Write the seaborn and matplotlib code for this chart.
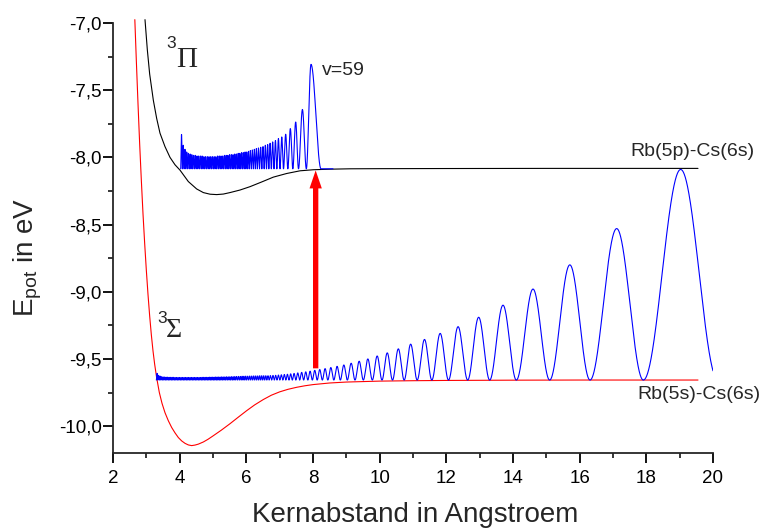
import numpy as np
import pandas as pd
import matplotlib
matplotlib.use("Agg")
import matplotlib.pyplot as plt
import seaborn as sns

# ---------------- data ----------------
# lower potential (3Sigma), red
sigma_x = [2.655, 2.70, 2.75, 2.80, 2.85, 2.90, 2.95, 3.00, 3.05, 3.10, 3.15, 3.20,
           3.25, 3.31, 3.39, 3.47, 3.56, 3.66, 3.76, 3.86, 3.96, 4.06, 4.16, 4.26,
           4.36, 4.46, 4.56, 4.71, 4.85, 5.00, 5.25, 5.51, 5.75, 6.01, 6.25, 6.51,
           6.75, 7.00, 7.25, 7.51, 7.75, 8.00, 8.50, 9.00, 10.0, 11.0, 12.0, 14.0,
           16.0, 19.55]
sigma_E = [-6.975, -7.28, -7.60, -7.90, -8.17, -8.42, -8.64, -8.84, -9.02, -9.18, -9.32, -9.44,
           -9.54, -9.64, -9.75, -9.83, -9.90, -9.96, -10.01, -10.05, -10.085, -10.11, -10.128, -10.14,
           -10.145, -10.141, -10.134, -10.118, -10.098, -10.073, -10.03, -9.982, -9.935, -9.885, -9.842, -9.802,
           -9.770, -9.745, -9.726, -9.711, -9.700, -9.691, -9.679, -9.672, -9.665, -9.662, -9.660, -9.658,
           -9.657, -9.657]

# upper potential (3Pi), black
pi_x = [2.96, 3.03, 3.10, 3.21, 3.31, 3.41, 3.56, 3.71, 3.86, 4.01, 4.26, 4.51,
        4.71, 4.91, 5.11, 5.31, 5.51, 5.81, 6.11, 6.46, 6.81, 7.21, 7.61, 8.01,
        8.50, 9.11, 10.0, 12.0, 15.0, 19.55]
pi_E = [-6.975, -7.20, -7.38, -7.575, -7.71, -7.82, -7.92, -8.00, -8.055, -8.095, -8.18, -8.235,
        -8.262, -8.274, -8.277, -8.273, -8.262, -8.243, -8.218, -8.183, -8.147, -8.12, -8.10, -8.092,
        -8.088, -8.085, -8.084, -8.083, -8.082, -8.082]

# upper vibrational wavefunction (v=59), blue: nodes and lobe maxima
upper_base = -8.085
upper_nodes = [4.030, 4.082, 4.133, 4.185, 4.236, 4.288, 4.339, 4.391, 4.442, 4.494,
               4.545, 4.597, 4.648, 4.700, 4.751, 4.803, 4.854, 4.906, 4.957, 5.009,
               5.060, 5.112, 5.163, 5.215, 5.266, 5.318, 5.369, 5.421, 5.472, 5.524,
               5.575, 5.627, 5.678, 5.730, 5.781, 5.833, 5.884, 5.936, 5.987, 6.039,
               6.09, 6.15, 6.21, 6.27, 6.33, 6.395, 6.465, 6.535, 6.605, 6.675,
               6.75, 6.83, 6.915, 7.01, 7.115, 7.245, 7.395, 7.565, 7.80, 8.24]
upper_peaks = [-7.83, -7.91, -7.94, -7.96, -7.97, -7.975, -7.98, -7.985, -7.985, -7.99,
               -7.99, -7.99, -7.99, -7.995, -7.995, -7.995, -7.995, -7.995, -7.995, -7.995,
               -7.995, -7.99, -7.99, -7.99, -7.99, -7.985, -7.985, -7.985, -7.98, -7.98,
               -7.98, -7.975, -7.975, -7.97, -7.97, -7.965, -7.965, -7.96, -7.96, -7.955,
               -7.95, -7.945, -7.94, -7.935, -7.93, -7.925, -7.92, -7.91, -7.905, -7.895,
               -7.885, -7.875, -7.86, -7.848, -7.828, -7.786, -7.737, -7.644, -7.308]
upper_last_peak_x = 7.94
upper_tail_end = 8.60

# lower vibrational wavefunction, blue: nodes and lobe maxima
lower_base = -9.657
lower_nodes = [3.300, 3.345, 3.390, 3.435, 3.480, 3.525, 3.570, 3.615, 3.660, 3.705,
               3.750, 3.795, 3.840, 3.885, 3.930, 3.975, 4.020, 4.065, 4.110, 4.155,
               4.200, 4.245, 4.290, 4.335, 4.380, 4.425, 4.470, 4.515, 4.560, 4.605,
               4.650, 4.695, 4.740, 4.785, 4.830, 4.875, 4.920, 4.965, 5.010, 5.055,
               5.100, 5.145, 5.190, 5.235, 5.280, 5.330, 5.380, 5.430, 5.480, 5.530,
               5.580, 5.630, 5.680, 5.735, 5.790, 5.845, 5.900, 5.955, 6.010, 6.070,
               6.130, 6.190, 6.250, 6.310, 6.370, 6.430, 6.490, 6.550, 6.615,
               6.685, 6.76, 6.84, 6.92, 7.005, 7.095, 7.185, 7.28, 7.38, 7.485,
               7.60, 7.72, 7.845, 7.98, 8.125, 8.28, 8.445, 8.625, 8.82, 9.03,
               9.26, 9.51, 9.78, 10.07, 10.385, 10.735, 11.125, 11.565, 12.065, 12.64,
               13.30, 14.10, 15.10, 16.31, 17.91, 20.15]
lower_peaks = [-9.607, -9.622, -9.628, -9.632, -9.634, -9.635, -9.636, -9.636, -9.637, -9.637,
               -9.637, -9.637, -9.638, -9.638, -9.638, -9.638, -9.638, -9.638, -9.638, -9.638,
               -9.638, -9.638, -9.638, -9.638, -9.638, -9.638, -9.638, -9.638, -9.638, -9.638,
               -9.637, -9.637, -9.637, -9.637, -9.637, -9.636, -9.636, -9.636, -9.636, -9.635,
               -9.635, -9.635, -9.635, -9.634, -9.634, -9.634, -9.633, -9.633, -9.633, -9.632,
               -9.632, -9.631, -9.631, -9.630, -9.630, -9.629, -9.629, -9.628, -9.628, -9.627,
               -9.627, -9.626, -9.626, -9.626, -9.625, -9.625, -9.625, -9.625,
               -9.625, -9.624, -9.623, -9.622, -9.620, -9.618, -9.616, -9.614, -9.611, -9.608,
               -9.604, -9.600, -9.596, -9.591, -9.585, -9.579, -9.572, -9.564, -9.555, -9.545,
               -9.532, -9.517, -9.500, -9.478, -9.455, -9.425, -9.390, -9.355, -9.310, -9.260,
               -9.190, -9.100, -8.980, -8.800, -8.530, -8.090]
lower_x_end = 20.0

# labels
x_ticks = [2, 4, 6, 8, 10, 12, 14, 16, 18, 20]
y_ticks = [-10.0, -9.5, -9.0, -8.5, -8.0, -7.5, -7.0]
y_tick_labels = ["-10,0", "-9,5", "-9,0", "-8,5", "-8,0", "-7,5", "-7,0"]
x_label = "Kernabstand in Angstroem"
y_label = r"E$_{\mathrm{pot}}$ in eV"

# excitation arrow
arrow_x = 8.08
arrow_y0 = -9.57
arrow_y1 = -8.097


def lobe_curve(nodes, peaks, base, last_peak_x=None, x_end=None, tail_end=None):
    xs, ys = [], []
    n = len(peaks)
    for i in range(n):
        a, b = nodes[i], nodes[i + 1]
        p = 0.5 * (a + b)
        if last_peak_x is not None and i == n - 1:
            p = last_peak_x
        h = peaks[i] - base
        m = max(6, int((b - a) * 220))
        t = np.linspace(0.0, 1.0, m)
        lx = a + (p - a) * t
        ly = base + h * np.sin(0.5 * np.pi * t) ** 2
        rx = p + (b - p) * t[1:]
        ry = base + h * np.cos(0.5 * np.pi * t[1:]) ** 2
        seg_x = np.concatenate([lx if i == 0 else lx[1:], rx])
        seg_y = np.concatenate([ly if i == 0 else ly[1:], ry])
        xs.append(seg_x)
        ys.append(seg_y)
    xs = np.concatenate(xs)
    ys = np.concatenate(ys)
    if tail_end is not None:
        xs = np.append(xs, tail_end)
        ys = np.append(ys, base)
    if x_end is not None:
        keep = xs <= x_end
        xs, ys = xs[keep], ys[keep]
    return xs, ys


sns.set_style("ticks")
plt.rcParams["font.family"] = ["Liberation Sans", "DejaVu Sans"]
plt.rcParams["mathtext.fontset"] = "custom"
plt.rcParams["mathtext.rm"] = "Liberation Sans"
plt.rcParams["mathtext.it"] = "Liberation Sans:italic"

fig = plt.figure(figsize=(7.61, 5.28), dpi=100)
ax = fig.add_axes([113 / 761, 1 - 453 / 528, 600 / 761, 430 / 528])

df_sigma = pd.DataFrame({"x": sigma_x, "E": sigma_E})
df_pi = pd.DataFrame({"x": pi_x, "E": pi_E})
ux, uy = lobe_curve(upper_nodes, upper_peaks, upper_base,
                    last_peak_x=upper_last_peak_x, tail_end=upper_tail_end)
lx, ly = lobe_curve(lower_nodes, lower_peaks, lower_base, x_end=lower_x_end)
df_up = pd.DataFrame({"x": ux, "E": uy})
df_lo = pd.DataFrame({"x": lx, "E": ly})

kw = dict(sort=False, estimator=None, legend=False)
sns.lineplot(data=df_pi, x="x", y="E", ax=ax, color="black", linewidth=0.8, **kw)
sns.lineplot(data=df_sigma, x="x", y="E", ax=ax, color="#ff0000", linewidth=0.8, **kw)
sns.lineplot(data=df_up, x="x", y="E", ax=ax, color="#0000ff", linewidth=0.8, **kw)
sns.lineplot(data=df_lo, x="x", y="E", ax=ax, color="#0000ff", linewidth=0.8, **kw)
for ln in ax.lines[:2]:
    ln.set_clip_on(False)

ax.arrow(arrow_x, arrow_y0, 0, arrow_y1 - arrow_y0, width=0.16, head_width=0.37,
         head_length=0.134, length_includes_head=True, color="#ff0000", lw=0, zorder=5)

ax.set_xlim(2, 20)
ax.set_ylim(-10.2, -7.0)
ax.set_xticks(x_ticks)
ax.set_xticks([3, 5, 7, 9, 11, 13, 15, 17, 19], minor=True)
ax.set_yticks(y_ticks)
ax.set_yticklabels(y_tick_labels)
ax.set_yticks([-10.25, -9.75, -9.25, -8.75, -8.25, -7.75, -7.25], minor=True)
ax.set_ylim(-10.2, -7.0)

for s in ["top", "right"]:
    ax.spines[s].set_visible(False)
for s in ["left", "bottom"]:
    ax.spines[s].set_linewidth(1.3)
ax.tick_params(axis="both", which="major", direction="out", length=7, width=1.3,
               labelsize=13.5, color="black", labelcolor="black")
ax.tick_params(axis="both", which="minor", direction="out", length=3.6, width=1.3)
ax.tick_params(axis="y", which="major", pad=1)
ax.tick_params(axis="x", which="major", pad=5)
ax.grid(False)

ax.set_xlabel(x_label, fontsize=20)
ax.xaxis.label.set_verticalalignment("baseline")
ax.xaxis.set_label_coords(0.503, -0.160)
ax.set_ylabel(y_label, fontsize=20)
ax.yaxis.set_label_coords(-0.115, 0.455)

ax.text(3.60, -7.187, "3", fontsize=12.5, ha="left", va="baseline")
ax.text(3.90, -7.328, "\u03a0", fontsize=21, ha="left", va="baseline",
        family=["Liberation Serif", "DejaVu Serif"])
ax.text(3.33, -9.231, "3", fontsize=12.5, ha="left", va="baseline")
ax.text(3.58, -9.336, "\u03a3", fontsize=20, ha="left", va="baseline",
        family=["Liberation Serif", "DejaVu Serif"])
ax.text(8.27, -7.388, "v=59", fontsize=14, ha="left", va="baseline")
ax.text(17.51, -7.993, "Rb(5p)-Cs(6s)", fontsize=14, ha="left", va="baseline")
ax.text(17.72, -9.80, "Rb(5s)-Cs(6s)", fontsize=14, ha="left", va="baseline")

fig.savefig("out.png", dpi=100)
